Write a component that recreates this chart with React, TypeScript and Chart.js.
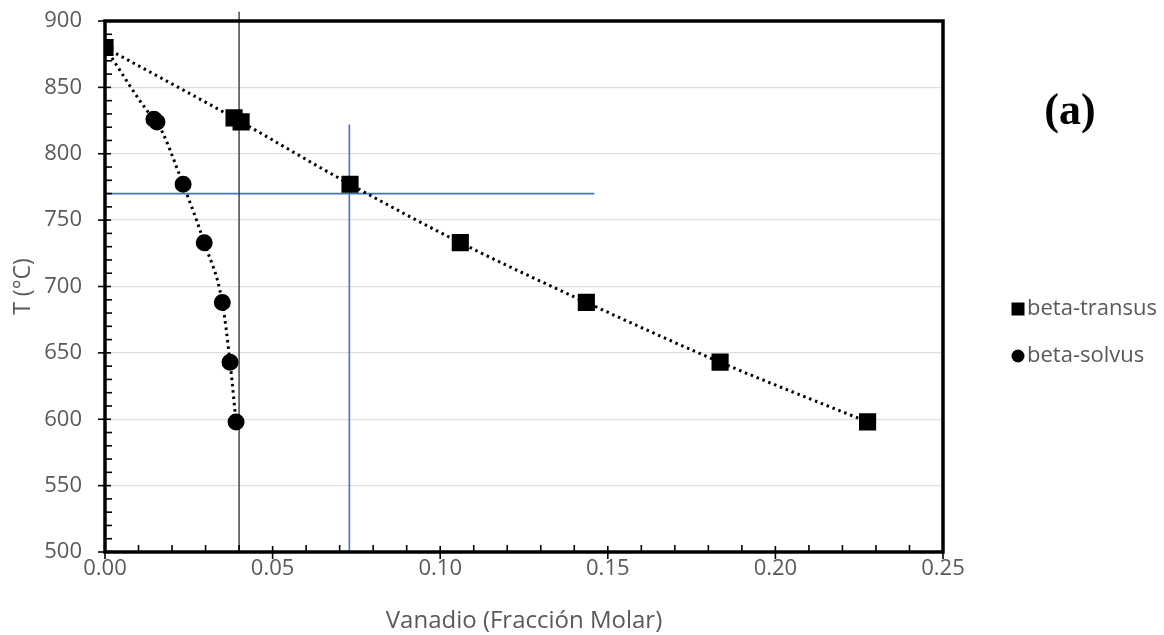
import React, { useEffect, useRef } from "react";
import { Chart, registerables } from "chart.js";

Chart.register(...registerables);

// Data
const transusX = [0, 0.0385, 0.0406, 0.0731, 0.106, 0.1436, 0.1835, 0.2275];
const transusT = [880, 827, 824, 777, 733, 688, 643, 598];
const solvusX = [0, 0.0146, 0.0155, 0.0233, 0.0296, 0.035, 0.0373, 0.0391];
const solvusT = [880, 826, 824, 777, 733, 688, 643, 598];

const legendLabels = ["beta-transus", "beta-solvus"];

// reference guide lines
const blackLineX = [0.04, 0.04];
const blackLineT = [500, 907];
const blueVertX = [0.0729, 0.0729];
const blueVertT = [500, 822];
const blueHorzX = [0, 0.146];
const blueHorzT = [770, 770];

const xTicks = [0, 0.05, 0.1, 0.15, 0.2, 0.25];

const FONT = "'Open Sans', 'DejaVu Sans', sans-serif";
const GRAY = "#595959";

const toPts = (xs: number[], ys: number[]) => xs.map((x, i) => ({ x, y: ys[i] }));

const decor = {
  id: "decor",
  afterDraw(chart: any) {
    const { ctx, chartArea: a, scales } = chart;
    const xs = scales.x;
    const ys = scales.y;
    ctx.save();
    ctx.strokeStyle = "#000";
    ctx.lineWidth = 1.6;
    for (let v = 500; v <= 900; v += 10) {
      const py = ys.getPixelForValue(v);
      ctx.beginPath();
      if (v % 50 === 0) {
        ctx.moveTo(a.left - 7, py);
        ctx.lineTo(a.left + 6, py);
      } else {
        ctx.moveTo(a.left, py);
        ctx.lineTo(a.left + 7, py);
      }
      ctx.stroke();
    }
    for (let i = 0; i <= 25; i++) {
      const v = i / 100;
      const px = xs.getPixelForValue(v);
      ctx.beginPath();
      if (i % 5 === 0) {
        ctx.moveTo(px, a.bottom - 6);
        ctx.lineTo(px, a.bottom + 7);
      } else {
        ctx.moveTo(px, a.bottom);
        ctx.lineTo(px, a.bottom - 7);
      }
      ctx.stroke();
    }
    ctx.lineWidth = 3.5;
    ctx.strokeRect(a.left, a.top, a.right - a.left, a.bottom - a.top);

    // legend
    const lx = 1018;
    const rows = [309, 356];
    ctx.fillStyle = "#000";
    ctx.fillRect(lx - 6.5, rows[0] - 6.5, 13, 13);
    ctx.beginPath();
    ctx.arc(lx, rows[1], 6.5, 0, Math.PI * 2);
    ctx.fill();
    ctx.fillStyle = GRAY;
    ctx.font = `22px ${FONT}`;
    ctx.textBaseline = "middle";
    ctx.textAlign = "left";
    legendLabels.forEach((t, i) => ctx.fillText(t, lx + 9, rows[i]));

    // panel label
    ctx.fillStyle = "#000";
    ctx.font = `bold 44px 'Liberation Serif', 'Times New Roman', serif`;
    ctx.textAlign = "center";
    ctx.fillText("(a)", 1070, 113);
    ctx.restore();
  },
};

export default function App() {
  const ref = useRef<HTMLCanvasElement>(null);
  useEffect(() => {
    document.body.style.margin = "0";
    const dotted = {
      showLine: true,
      borderColor: "#000",
      borderWidth: 3,
      borderDash: [2.5, 3.8],
      cubicInterpolationMode: "monotone" as const,
      backgroundColor: "#000",
      pointBorderColor: "#000",
    };
    const guide = (color: string, w: number) => ({
      showLine: true,
      borderColor: color,
      borderWidth: w,
      pointRadius: 0,
      clip: false as any,
    });
    const chart = new Chart(ref.current!, {
      type: "scatter",
      data: {
        datasets: [
          { label: legendLabels[0], data: toPts(transusX, transusT), pointStyle: "rect", pointRadius: 10, ...dotted, order: 0 },
          { label: legendLabels[1], data: toPts(solvusX, solvusT), pointStyle: "circle", pointRadius: 7, ...dotted, order: 1 },
          { label: "guide-black", data: toPts(blackLineX, blackLineT), ...guide("#3a3a3a", 1.4), order: 5 },
          { label: "guide-blue-v", data: toPts(blueVertX, blueVertT), ...guide("#4472C4", 1.6), order: 5 },
          { label: "guide-blue-h", data: toPts(blueHorzX, blueHorzT), ...guide("#4472C4", 1.6), order: 5 },
        ],
      },
      options: {
        responsive: false,
        animation: false,
        layout: { padding: { top: 21, right: 221, left: 0, bottom: 0 } },
        plugins: { legend: { display: false }, tooltip: { enabled: false } },
        scales: {
          x: {
            type: "linear",
            min: 0,
            max: 0.25,
            afterBuildTicks: (s: any) => {
              s.ticks = xTicks.map((v) => ({ value: v }));
            },
            ticks: {
              color: GRAY,
              padding: -4,
              font: { family: FONT, size: 22 },
              callback: (v: any) => Number(v).toFixed(2),
            },
            grid: { display: false },
            border: { display: false },
            title: {
              display: true,
              text: "Vanadio (Fracción Molar)",
              color: GRAY,
              font: { family: FONT, size: 24 },
              padding: { top: 0, bottom: -1 },
            },
            afterFit: (s: any) => {
              s.height = 83;
            },
          },
          y: {
            type: "linear",
            min: 500,
            max: 900,
            ticks: {
              stepSize: 50,
              color: GRAY,
              padding: 0,
              font: { family: FONT, size: 22 },
            },
            grid: {
              color: "#dedede",
              lineWidth: 1.3,
              drawTicks: true,
              tickLength: 23,
              tickColor: "rgba(0,0,0,0)",
            },
            border: { display: false },
            title: {
              display: true,
              text: "T (°C)",
              color: GRAY,
              font: { family: FONT, size: 23 },
              padding: { top: 10, bottom: 0 },
            },
            afterFit: (s: any) => {
              s.width = 105;
            },
          },
        },
      },
      plugins: [decor],
    });
    return () => chart.destroy();
  }, []);
  return (
    <div style={{ position: "fixed", left: 0, top: 0, width: 1164, height: 635, background: "#fff" }}>
      <canvas ref={ref} width={1164} height={635} />
    </div>
  );
}
